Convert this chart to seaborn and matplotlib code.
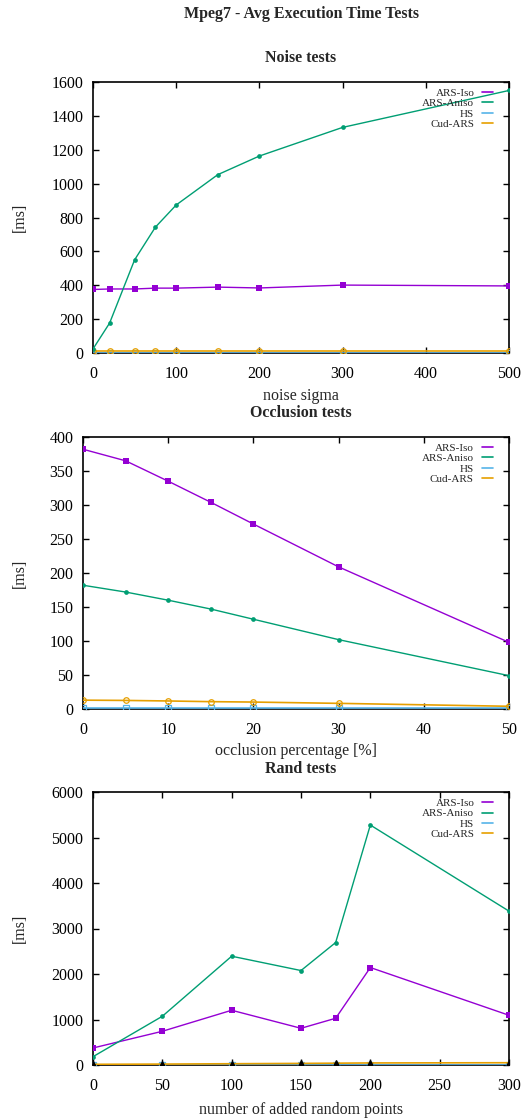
import numpy as np
import pandas as pd
import matplotlib
matplotlib.use("Agg")
import matplotlib.pyplot as plt
from matplotlib.lines import Line2D
import seaborn as sns

# ---- data -------------------------------------------------------------
series_names = ["ARS-Iso", "ARS-Aniso", "HS", "Cud-ARS"]

noise_sigma = [0, 20, 50, 75, 100, 150, 200, 300, 500]
noise_iso = [375, 378, 378, 383, 383, 389, 384, 401, 396]
noise_aniso = [24, 177, 550, 743, 874, 1053, 1163, 1332, 1550]
noise_hs = [1, 1, 1, 1, 1, 1, 1, 1, 1]
noise_cud = [10, 10, 10, 10, 10, 10, 10, 10, 10]

occl_pct = [0, 5, 10, 15, 20, 30, 50]
occl_iso = [382, 365, 335, 304, 272, 209, 98]
occl_aniso = [182, 172, 160, 147, 132, 102, 49]
occl_hs = [1, 1, 1, 1, 1, 1, 1]
occl_cud = [13, 12.6, 11.8, 10.8, 10.2, 8.3, 4]

rand_pts = [0, 50, 100, 150, 175, 200, 300]
rand_iso = [374, 741, 1203, 807, 1027, 2142, 1093]
rand_aniso = [183, 1071, 2391, 2076, 2692, 5274, 3382]
rand_hs = [1, 1, 1, 1, 1, 1, 1]
rand_cud = [15, 20, 28, 35, 40, 45, 50]

colors = {"ARS-Iso": "#9400d3", "ARS-Aniso": "#009e73",
          "HS": "#56b4e9", "Cud-ARS": "#e69f00"}

# ---- style ------------------------------------------------------------
sns.set_style("ticks")
plt.rcParams["font.family"] = ["Liberation Serif", "DejaVu Serif"]
plt.rcParams["mathtext.fontset"] = "stix"

W, H = 524, 1119
fig = plt.figure(figsize=(W / 100, H / 100), dpi=100)


def px_axes(left, right, top, bottom):
    return fig.add_axes([left / W, 1 - bottom / H, (right - left) / W, (bottom - top) / H])


def draw_panel(ax, x, iso, aniso, hs, cud, cud_marker="o", cud_mfc="none", cud_mec=None):
    df = pd.DataFrame({"x": x, "ARS-Iso": iso, "ARS-Aniso": aniso, "HS": hs, "Cud-ARS": cud})
    sns.lineplot(data=df, x="x", y="ARS-Iso", ax=ax, color=colors["ARS-Iso"], lw=1.0,
                 marker="s", markersize=4.2, markeredgewidth=0, zorder=4)
    sns.lineplot(data=df, x="x", y="ARS-Aniso", ax=ax, color=colors["ARS-Aniso"], lw=1.0,
                 marker="o", markersize=3.4, markeredgewidth=0, zorder=4)
    sns.lineplot(data=df, x="x", y="HS", ax=ax, color=colors["HS"], lw=1.2,
                 marker="s", markersize=4, markerfacecolor="none",
                 markeredgecolor=colors["HS"], markeredgewidth=0.9, zorder=3)
    sns.lineplot(data=df, x="x", y="Cud-ARS", ax=ax, color=colors["Cud-ARS"], lw=1.2,
                 marker=cud_marker, markersize=4, markerfacecolor=cud_mfc,
                 markeredgecolor=cud_mec or colors["Cud-ARS"], markeredgewidth=0.9, zorder=3)
    handles = [Line2D([], [], color=colors[n], lw=1.2) for n in series_names]
    ax.legend(handles, series_names, loc="upper right", bbox_to_anchor=(0.962, 0.977),
              frameon=False, fontsize=8, markerfirst=False, handlelength=1.0,
              handletextpad=0.7, labelspacing=0.05, borderpad=0, borderaxespad=0)
    ax.tick_params(direction="in", top=True, right=True, length=4, width=1,
                   labelsize=11.5, colors="black")
    ax.tick_params(axis="x", pad=9)
    ax.tick_params(axis="y", pad=7)
    for s in ax.spines.values():
        s.set_visible(True)
        s.set_linewidth(1.2)
        s.set_color("black")
    ax.set_ylabel("[ms]", fontsize=11.5)
    ax.grid(False)


# Noise panel
ax1 = px_axes(93, 509, 82, 353)
draw_panel(ax1, noise_sigma, noise_iso, noise_aniso, noise_hs, noise_cud)
ax1.set_xlim(0, 500)
ax1.set_ylim(0, 1600)
ax1.set_xticks(np.arange(0, 501, 100))
ax1.set_yticks(np.arange(0, 1601, 200))
ax1.set_xlabel("noise sigma", fontsize=11.5, labelpad=5)
ax1.yaxis.set_label_coords((28 - 93) / 416, 0.5)

# Occlusion panel
ax2 = px_axes(83, 509, 437, 709)
draw_panel(ax2, occl_pct, occl_iso, occl_aniso, occl_hs, occl_cud)
ax2.set_xlim(0, 50)
ax2.set_ylim(0, 400)
ax2.set_xticks(np.arange(0, 51, 10))
ax2.set_yticks(np.arange(0, 401, 50))
ax2.set_xlabel("occlusion percentage [%]", fontsize=11.5, labelpad=4)
ax2.yaxis.set_label_coords((28 - 83) / 426, 0.5)

# Random points panel
ax3 = px_axes(93, 509, 792, 1065)
draw_panel(ax3, rand_pts, rand_iso, rand_aniso, rand_hs, rand_cud,
           cud_marker="^", cud_mfc="black", cud_mec="black")
ax3.set_xlim(0, 300)
ax3.set_ylim(0, 6000)
ax3.set_xticks(np.arange(0, 301, 50))
ax3.set_yticks(np.arange(0, 6001, 1000))
ax3.set_xlabel("number of added random points", fontsize=11.5, labelpad=6)
ax3.yaxis.set_label_coords((28 - 93) / 416, 0.5)

# Titles
cx = 301 / W
fig.text(cx, 1 - 14 / H, "Mpeg7 - Avg Execution Time Tests", ha="center", va="center",
         fontsize=11.5, fontweight="bold")
fig.text(cx, 1 - 58 / H, "Noise tests", ha="center", va="center",
         fontsize=11.5, fontweight="bold")
fig.text(cx, 1 - 413 / H, "Occlusion tests", ha="center", va="center",
         fontsize=11.5, fontweight="bold")
fig.text(cx, 1 - 769 / H, "Rand tests", ha="center", va="center",
         fontsize=11.5, fontweight="bold")

fig.savefig("out.png", dpi=100)
